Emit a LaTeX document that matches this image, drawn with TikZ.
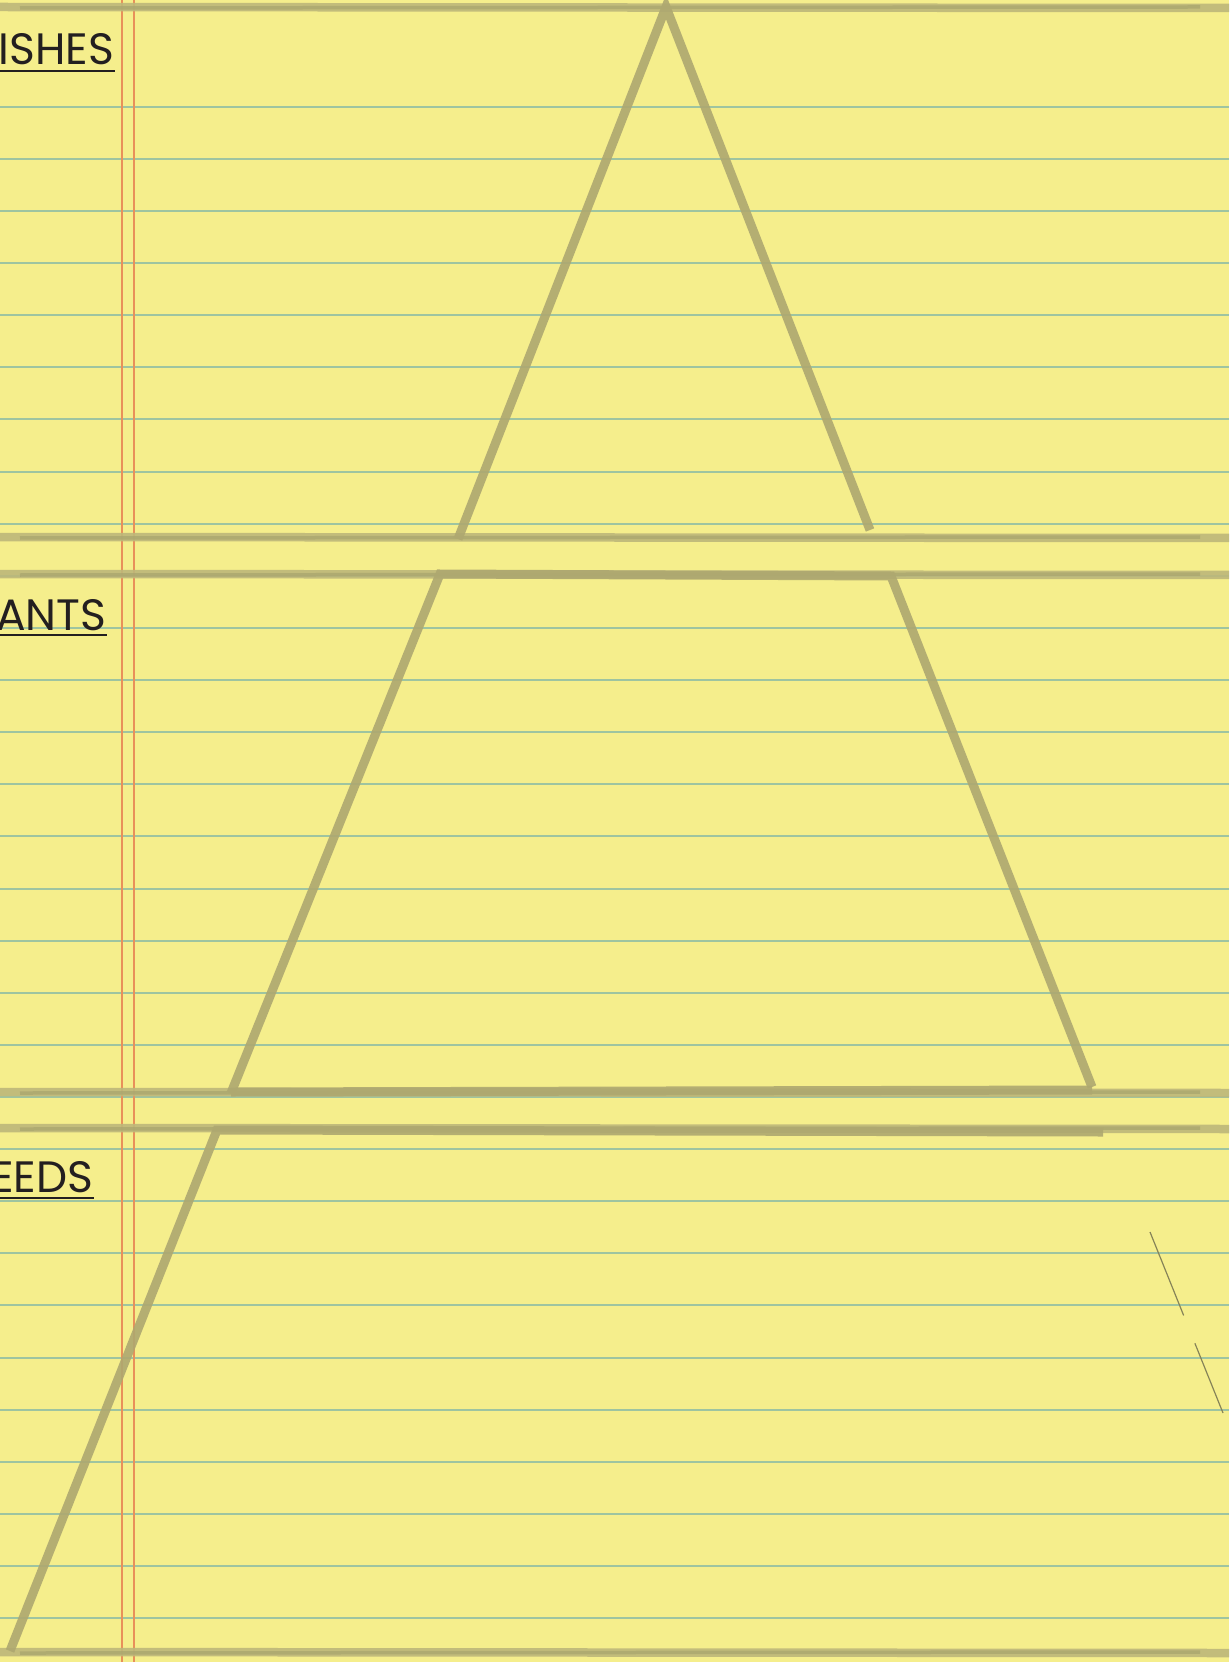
\documentclass[tikz,border=0pt]{standalone}
\usepackage{fontspec}
\newfontfamily\padfont{Poppins}
\usetikzlibrary{positioning}

\definecolor{paper}{HTML}{F5EE8C}
\definecolor{ruling}{HTML}{9EC4A0}
\definecolor{margin}{HTML}{E8905A}
\definecolor{brushc}{HTML}{BDB77A}
\definecolor{brushd}{HTML}{A8A46E}
\definecolor{ink}{HTML}{231F20}

\begin{document}
\begin{tikzpicture}[
    x=0.1mm, y=-0.1mm,
    rule/.style={ruling, line width=0.2mm},
    marginline/.style={margin, line width=0.16mm},
    band/.style={brushc, line width=0.85mm, opacity=0.9},
    bandcore/.style={brushd, line width=0.35mm, opacity=0.7},
    edge/.style={brushc!92!black, line width=0.9mm, opacity=0.9, line join=miter},
    pencil/.style={brushd!80!black, line width=0.12mm, dash pattern=on 9mm off 3mm},
    label/.style={font=\padfont\fontsize{12.5}{14}\selectfont, text=ink, inner sep=0pt},
    uline/.style={ink, line width=0.22mm}
]
\useasboundingbox (0,0) rectangle (1229,1662);
\clip (0,0) rectangle (1229,1662);

% Paper
\fill[paper] (0,0) rectangle (1229,1662);

% Ruled lines
\foreach \k in {0,...,29}
    \draw[rule] (0,{106.7+52.12*\k}) -- (1229,{106.7+52.12*\k});

% Margin lines
\draw[marginline] (122,0) -- (122,1662);
\draw[marginline] (134,0) -- (134,1662);

% Brush strokes across the page
\foreach \y in {7,537,574,1092,1128,1652} {
    \draw[band] (-5,\y) -- (1234,\y+1);
    \draw[bandcore] (20,\y+1) -- (1200,\y);
}

% Pyramid levels
\draw[edge] (458,539) -- (666,7) -- (870,530);
\draw[edge] (231,1093) -- (440,574) -- (891,576) -- (1092,1087);
\draw[edge] (231,1092) -- (1092,1090);
\draw[edge] (10,1651) -- (217,1130) -- (1103,1132);
\draw[pencil] (1150,1232) -- (1223,1413);

% Labels
\node[label, anchor=base east] (wishes) at (115,65) {WISHES};
\node[label, anchor=base east] (wants) at (107,630) {WANTS};
\node[label, anchor=base east] (needs) at (94,1192) {NEEDS};

\draw[uline] ([yshift=-0.6mm]wishes.base west) -- ([yshift=-0.6mm]wishes.base east);
\draw[uline] ([yshift=-0.5mm]wants.base west) -- ([yshift=-0.5mm]wants.base east);
\draw[uline] ([yshift=-0.6mm]needs.base west) -- ([yshift=-0.6mm]needs.base east);

\end{tikzpicture}
\end{document}
